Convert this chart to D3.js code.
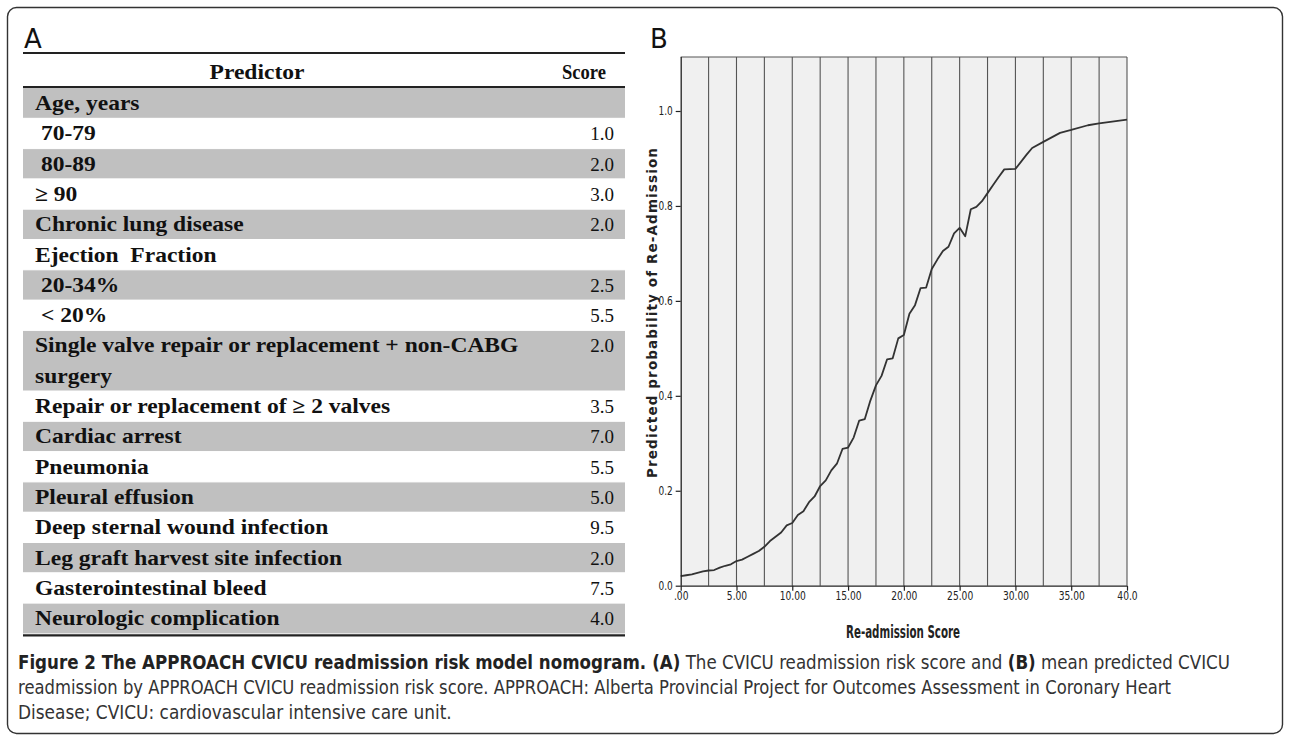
<!DOCTYPE html>
<html><head><meta charset="utf-8">
<script src="https://cdn.jsdelivr.net/npm/d3@7/dist/d3.min.js"></script>
<style>
html,body{margin:0;padding:0;background:#fff;}
svg{display:block;}
</style></head>
<body>
<svg id="fig" width="1290" height="737"></svg>
<script>
// ---------- DATA ----------
const predictors = ["Age, years"," 70-79"," 80-89","\u2265 90","Chronic lung disease","Ejection  Fraction"," 20-34%"," < 20%","Single valve repair or replacement + non-CABG|surgery","Repair or replacement of \u2265 2 valves","Cardiac arrest","Pneumonia","Pleural effusion","Deep sternal wound infection","Leg graft harvest site infection","Gasterointestinal bleed","Neurologic complication"];
const scores = ["","1.0","2.0","3.0","2.0","","2.5","5.5","2.0","3.5","7.0","5.5","5.0","9.5","2.0","7.5","4.0"];
const shaded = [true,false,true,false,true,false,true,false,true,false,true,false,true,false,true,false,true];

const readmissionScore = [0,0.5,1,1.5,2,2.5,3,3.5,4,4.5,5,5.5,6,6.5,7,7.5,8,8.5,9,9.5,10,10.5,11,11.5,12,12.5,13,13.5,14,14.5,15,15.5,16,16.5,17,17.5,18,18.5,19,19.5,20,20.5,21,21.5,22,22.5,23,23.5,24,24.5,25,25.5,26,26.5,27,27.5,28,28.5,29,30,31,31.5,32.5,34,35,36.5,37.5,40];
const predictedProb = [0.020,0.022,0.024,0.027,0.030,0.032,0.033,0.038,0.042,0.045,0.052,0.055,0.061,0.067,0.073,0.082,0.094,0.103,0.112,0.127,0.132,0.149,0.157,0.176,0.188,0.210,0.222,0.243,0.257,0.288,0.291,0.312,0.348,0.351,0.390,0.422,0.442,0.477,0.479,0.521,0.528,0.573,0.591,0.627,0.628,0.667,0.687,0.705,0.714,0.742,0.754,0.736,0.793,0.798,0.810,0.827,0.844,0.861,0.877,0.878,0.908,0.922,0.935,0.954,0.960,0.970,0.974,0.982];

const xTicks = [0,5,10,15,20,25,30,35,40];
const xTickLabels = [".00","5.00","10.00","15.00","20.00","25.00","30.00","35.00","40.0"];
const yTicks = [0,0.2,0.4,0.6,0.8,1.0];
const yTickLabels = ["0.0","0.2","0.4","0.6","0.8","1.0"];
const gridStep = [2.5,5,7.5,10,12.5,15,17.5,20,22.5,25,27.5,30,32.5,35,37.5,40];

const captionLines = [
  [["Figure 2 The APPROACH CVICU readmission risk model nomogram.",true],[" (A)",true],[" The CVICU readmission risk score and ",false],["(B)",true],[" mean predicted CVICU",false]],
  [["readmission by APPROACH CVICU readmission risk score. APPROACH: Alberta Provincial Project for Outcomes Assessment in Coronary Heart",false]],
  [["Disease; CVICU: cardiovascular intensive care unit.",false]]
];

// ---------- HELPERS ----------
function stretch(sel, factor){
  sel.each(function(){
    const w = this.getComputedTextLength();
    d3.select(this).attr("textLength", w*factor).attr("lengthAdjust","spacingAndGlyphs");
  });
}

const svg = d3.select("#fig");
const SANS = "'DejaVu Sans',sans-serif";

svg.append("rect").attr("x",7.5).attr("y",7.5).attr("width",1275).attr("height",726)
  .attr("rx",9).attr("fill","none").attr("stroke","#333").attr("stroke-width",1.4);

svg.append("text").attr("x",24).attr("y",48).text("A")
  .style("font-family",SANS).style("font-size","26px").attr("fill","#111");
svg.append("text").attr("x",650).attr("y",48).text("B")
  .style("font-family",SANS).style("font-size","26px").attr("fill","#111");

// ---------- TABLE (A) ----------
const tx0 = 23, tx1 = 625;
const rowH = 30.3, rowTop = 88;
const tbl = svg.append("g").style("font-family","'Liberation Serif','Times New Roman',serif");
const units = predictors.map(p => p.includes("|") ? 2 : 1);
const starts = []; let acc = 0;
units.forEach(u => { starts.push(rowTop + acc*rowH); acc += u; });
const tableBottom = rowTop + acc*rowH;

tbl.selectAll("rect.row").data(predictors).join("rect")
  .attr("x",tx0).attr("width",tx1-tx0)
  .attr("y",(d,i)=>starts[i]).attr("height",(d,i)=>units[i]*rowH)
  .attr("fill",(d,i)=>shaded[i] ? "#c0c0c0" : "#fff");
tbl.selectAll("line.sep").data(starts.slice(1)).join("line")
  .attr("x1",tx0).attr("x2",tx1).attr("y1",d=>d).attr("y2",d=>d)
  .attr("stroke","#fff").attr("stroke-width",1);

[[53,2],[87,2],[tableBottom+2,2.2]].forEach(([yy,w])=>{
  tbl.append("line").attr("x1",tx0).attr("x2",tx1).attr("y1",yy).attr("y2",yy)
    .attr("stroke","#222").attr("stroke-width",w);
});
const hp = tbl.append("text").attr("x",257).attr("y",79).attr("text-anchor","middle")
  .style("font-weight","bold").style("font-size","21px").attr("fill","#111").text("Predictor");
stretch(hp,1.12);
tbl.append("text").attr("x",606).attr("y",79).attr("text-anchor","end")
  .style("font-weight","bold").style("font-size","21px").attr("textLength",44).attr("lengthAdjust","spacingAndGlyphs")
  .attr("fill","#111").text("Score");

predictors.forEach((p,i)=>{
  p.split("|").forEach((ln,j)=>{
    const t = tbl.append("text").attr("x",35).attr("y",starts[i]+22+j*rowH)
      .attr("xml:space","preserve").style("white-space","pre")
      .style("font-weight","bold").style("font-size","21px").attr("fill","#111").text(ln);
    stretch(t,1.12);
  });
  if (scores[i]) {
    tbl.append("text").attr("x",614).attr("y",starts[i]+22).attr("text-anchor","end")
      .style("font-size","19px").attr("fill","#111").text(scores[i]);
  }
});

// ---------- CHART (B) ----------
const px0 = 680.7, px1 = 1127, py0 = 585.7, pyTop = 57;
const x = d3.scaleLinear().domain([0,40]).range([px0,px1]);
const y = d3.scaleLinear().domain([0,1]).range([py0, py0-474.7]);
const g = svg.append("g");
g.append("rect").attr("x",px0).attr("y",pyTop).attr("width",px1-px0).attr("height",py0-pyTop).attr("fill","#f0f0f0");
g.selectAll("line.grid").data(gridStep).join("line")
  .attr("x1",d=>x(d)).attr("x2",d=>x(d)).attr("y1",pyTop).attr("y2",py0)
  .attr("stroke","#555").attr("stroke-width",1.1);
g.append("line").attr("x1",px0).attr("x2",px1).attr("y1",pyTop).attr("y2",pyTop).attr("stroke","#555").attr("stroke-width",1.1);

const line = d3.line().x((d,i)=>x(readmissionScore[i])).y(d=>y(d));
g.append("path").attr("d",line(predictedProb)).attr("fill","none")
  .attr("stroke","#333").attr("stroke-width",1.8).attr("stroke-linejoin","round");

const yAxis = d3.axisLeft(y).tickValues(yTicks).tickFormat((d,i)=>yTickLabels[i]).tickSize(5).tickPadding(3);
const ya = g.append("g").attr("transform",`translate(${px0},0)`).call(yAxis);
ya.select(".domain").attr("d",`M0.5,${pyTop}V${py0}`).attr("stroke","#222").attr("stroke-width",1.3);
ya.selectAll(".tick line").attr("stroke","#222").attr("stroke-width",1.2);
ya.selectAll(".tick text").style("font-family",SANS).style("font-size","11.5px").attr("fill","#222");
stretch(ya.selectAll(".tick text"),0.78);

const xAxis = d3.axisBottom(x).tickValues(xTicks).tickFormat((d,i)=>xTickLabels[i]).tickSize(5).tickPadding(4);
const xa = g.append("g").attr("transform",`translate(0,${py0})`).call(xAxis);
xa.select(".domain").attr("d",`M${px0},0.5H${px1}`).attr("stroke","#222").attr("stroke-width",1.3);
xa.selectAll(".tick line").attr("stroke","#222").attr("stroke-width",1.2);
xa.selectAll(".tick text").attr("y",14).attr("dy","0").style("font-family",SANS).style("font-size","12px").attr("fill","#222");
stretch(xa.selectAll(".tick text"),0.76);

const xt = g.append("text").attr("x",903).attr("y",638).attr("text-anchor","middle")
  .style("font-family",SANS).style("font-weight","bold").style("font-size","18px").attr("fill","#222").text("Re-admission Score");
xt.attr("textLength",114).attr("lengthAdjust","spacingAndGlyphs");
g.append("text").attr("transform","translate(656.5,313) rotate(-90)").attr("text-anchor","middle")
  .style("font-family",SANS).style("font-weight","bold").style("font-size","13.5px")
  .attr("textLength",330).attr("lengthAdjust","spacing").attr("fill","#222")
  .text("Predicted probability of Re-Admission");

// ---------- CAPTION ----------
const capWidths = [1212, 1154, 434];
captionLines.forEach((segs,li)=>{
  const lg = svg.append("g");
  let cx = 0;
  segs.forEach(([s,b])=>{
    const t = lg.append("text").attr("x",cx).attr("y",0).attr("xml:space","preserve").style("white-space","pre")
      .style("font-family",SANS).style("font-size","19px").style("font-weight",b?"bold":"normal")
      .attr("fill",b?"#222":"#333").text(s);
    cx += t.node().getComputedTextLength();
  });
  const sx = capWidths[li]/cx;
  lg.attr("transform",`translate(18,${669+li*25}) scale(${sx},1)`);
});
</script>
</body></html>
